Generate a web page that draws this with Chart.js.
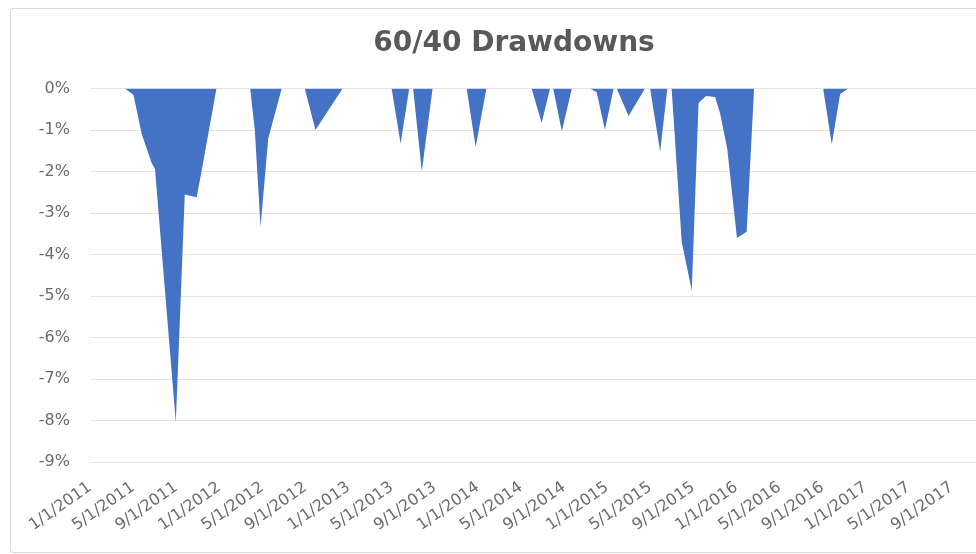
<!DOCTYPE html>
<html>
<head>
<meta charset="utf-8">
<script src="https://cdn.jsdelivr.net/npm/chart.js@4.4.1/dist/chart.umd.min.js"></script>
<style>
    html, body { margin: 0; padding: 0; background: #fff; overflow: hidden; }
    #frame { position: absolute; left: 10px; top: 8px; width: 1040px; height: 543px; border: 1px solid #d9d9d9; border-right: none; border-radius: 3px 0 0 3px; }
    #drawdowns { position: absolute; left: 0; top: 0; }
</style>
</head>
<body>
<div id="frame"></div>
<canvas id="drawdowns" width="1018" height="554"></canvas>
<script>
// drawdown of the 60/40 portfolio, % below previous high
const dates = [
    '2011-01-01', '2011-04-08', '2011-05-02', '2011-05-26', '2011-06-23', '2011-07-02',
    '2011-08-31', '2011-09-25', '2011-10-29', '2011-11-12', '2011-12-24',
    '2012-03-28', '2012-04-10', '2012-04-26', '2012-05-18', '2012-06-25',
    '2012-08-30', '2012-09-29', '2012-12-15',
    '2013-05-01', '2013-05-27', '2013-06-20',
    '2013-07-01', '2013-07-26', '2013-08-26',
    '2013-11-30', '2013-12-26', '2014-01-26',
    '2014-06-01', '2014-06-29', '2014-07-23',
    '2014-08-01', '2014-08-26', '2014-09-23',
    '2014-11-13', '2014-12-02', '2014-12-26', '2015-01-20',
    '2015-01-29', '2015-03-01', '2015-04-17',
    '2015-05-01', '2015-05-30', '2015-06-19',
    '2015-07-01', '2015-07-30', '2015-08-28', '2015-09-16', '2015-10-07', '2015-11-02',
    '2015-11-16', '2015-12-06', '2016-01-03', '2016-01-31', '2016-02-20',
    '2016-09-03', '2016-09-27', '2016-10-21', '2016-11-13',
    '2017-12-01'
];
const drawdown = [
    0, 0, -0.15, -1.1, -1.8, -1.94,
    -8.05, -2.55, -2.62, -1.98, 0,
    0, -1.0, -3.33, -1.2, 0,
    0, -1.0, 0,
    0, -1.33, 0,
    0, -2.0, 0,
    0, -1.41, 0,
    0, -0.83, 0,
    0, -1.03, 0,
    0, -0.08, -0.99, 0,
    0, -0.66, 0,
    0, -1.52, 0,
    0, -3.7, -4.87, -0.35, -0.18, -0.2,
    -0.6, -1.45, -3.6, -3.45, 0,
    0, -1.35, -0.13, 0,
    0
];
const tickLabels = [
    '1/1/2011', '5/1/2011', '9/1/2011', '1/1/2012', '5/1/2012', '9/1/2012', '1/1/2013',
    '5/1/2013', '9/1/2013', '1/1/2014', '5/1/2014', '9/1/2014', '1/1/2015', '5/1/2015',
    '9/1/2015', '1/1/2016', '5/1/2016', '9/1/2016', '1/1/2017', '5/1/2017', '9/1/2017'
];

// months since 1/1/2011, with the day as a fraction
function monthIndex(str) {
    let p = str.split('-').map(Number);
    let days = new Date(p[0], p[1], 0).getDate();
    return (p[0] - 2011) * 12 + (p[1] - 1) + (p[2] - 1) / days;
}

const points = dates.map((d, i) => ({ x: monthIndex(d), y: drawdown[i] }));
const labelFont = { family: 'DejaVu Sans', size: 16 };
const labelColor = '#6b6b6b';

const ctx = document.getElementById('drawdowns');
new Chart(ctx, {
    type: 'line',
    data: {
        datasets: [{
            label: '60/40',
            data: points,
            fill: 'origin',
            backgroundColor: '#4472C4',
            borderColor: 'rgba(0,0,0,0)',
            borderWidth: 0,
            pointRadius: 0,
            tension: 0
        }]
    },
    options: {
        responsive: false,
        animation: false,
        layout: { padding: { left: 10, right: 0, top: 10, bottom: 0 } },
        plugins: {
            legend: { display: false },
            tooltip: { enabled: false },
            title: {
                display: true,
                text: '60/40 Drawdowns',
                color: '#595959',
                font: { family: 'DejaVu Sans', size: 28, weight: 'bold' },
                padding: { top: 17, bottom: 28 }
            }
        },
        scales: {
            x: {
                type: 'linear',
                min: 0,
                max: 83,
                afterFit: function (scale) {
                    scale.paddingRight = 34;
                    scale.height = 92;
                },
                grid: { display: false },
                border: { display: false },
                ticks: {
                    stepSize: 4,
                    autoSkip: false,
                    includeBounds: false,
                    minRotation: 35,
                    maxRotation: 35,
                    padding: 8,
                    color: labelColor,
                    font: labelFont,
                    callback: v => tickLabels[v / 4]
                }
            },
            y: {
                min: -9,
                max: 0,
                afterFit: function (scale) { scale.width = 80; },
                grid: { color: '#e3e3e3', drawTicks: false },
                border: { display: false },
                ticks: {
                    stepSize: 1,
                    padding: 20,
                    color: labelColor,
                    font: labelFont,
                    callback: v => v + '%'
                }
            }
        }
    }
});
</script>
</body>
</html>
